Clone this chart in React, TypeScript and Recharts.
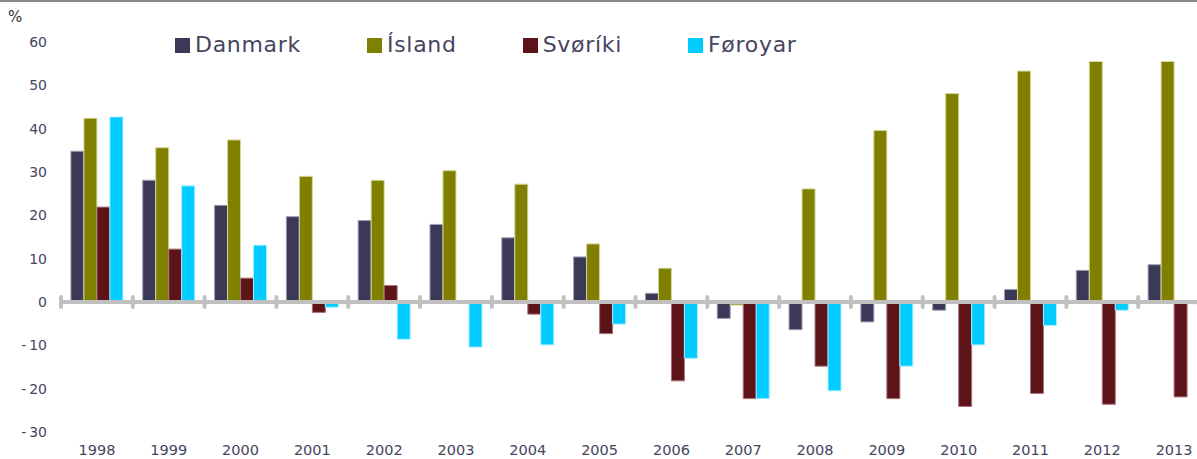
import React from 'react';
import { BarChart, Bar, XAxis, YAxis, ReferenceLine, Legend } from 'recharts';

const years = ['1998','1999','2000','2001','2002','2003','2004','2005','2006','2007','2008','2009','2010','2011','2012','2013'];
const danmark = [34.8, 28.1, 22.3, 19.7, 18.8, 17.9, 14.8, 10.4, 2.0, -3.8, -6.4, -4.6, -1.9, 2.9, 7.3, 8.6];
const island = [42.4, 35.6, 37.4, 29.0, 28.1, 30.3, 27.2, 13.4, 7.8, -0.7, 26.1, 39.6, 48.1, 53.3, 55.5, 55.5];
const sveriki = [21.9, 12.2, 5.5, -2.4, 3.8, 0, -2.8, -7.3, -18.2, -22.3, -14.8, -22.3, -24.1, -21.1, -23.6, -21.9];
const foroyar = [42.7, 26.8, 13.1, -1.2, -8.6, -10.4, -9.9, -5.1, -13.0, -22.3, -20.5, -14.8, -9.9, -5.4, -1.9, -0.4];
const yTicks = [-30, -20, -10, 0, 10, 20, 30, 40, 50, 60];

const series = [
  { key: 'Danmark', values: danmark, fill: '#3C3858', stroke: '#A09EB4' },
  { key: 'Ísland', values: island, fill: '#808000', stroke: '#D6D69C' },
  { key: 'Svøríki', values: sveriki, fill: '#5C1419', stroke: '#A87378' },
  { key: 'Føroyar', values: foroyar, fill: '#00CCFF', stroke: '#A8EEFF' },
];

const data = years.map((y, i) => {
  const row: Record<string, any> = { year: y };
  series.forEach((s) => { row[s.key] = s.values[i]; });
  return row;
});

const FONT = '"DejaVu Sans", Verdana, sans-serif';
const TEXT = '#46445E';

const ZeroLine = (props: any) => {
  const { x1, x2, y1 } = props;
  const n = years.length;
  const step = (x2 - x1) / n;
  const ticks = [];
  for (let i = 0; i <= n; i++) {
    const x = x1 + step * i;
    ticks.push(<line key={i} x1={x} x2={x} y1={y1 - 5} y2={y1 + 5} stroke="#C0C0C0" strokeWidth={4} strokeLinecap="round" />);
  }
  return (
    <g>
      <line x1={x1} x2={x2} y1={y1} y2={y1} stroke="#C0C0C0" strokeWidth={4} />
      {ticks}
    </g>
  );
};

const LegendContent = () => (
  <div style={{ display: 'flex', fontFamily: FONT, fontSize: 22, lineHeight: '22px', letterSpacing: '0.7px', color: TEXT, whiteSpace: 'nowrap' }}>
    {series.map((s) => (
      <div key={s.key} style={{ display: 'flex', alignItems: 'center', marginRight: 66 }}>
        <div style={{ width: 15, height: 15, background: s.fill, marginRight: 5 }} />
        <span>{s.key}</span>
      </div>
    ))}
  </div>
);

const fmt = (v: number) => (v < 0 ? '-\u2009' + Math.abs(v) : String(v));

export default function App() {
  return (
    <div style={{ position: 'fixed', left: 0, top: 0, width: 1197, height: 459, overflow: 'hidden', background: '#fff' }}>
      <div style={{ position: 'absolute', left: 0, top: 0, width: 1197, height: 2, background: '#8A8A8A' }} />
      <div style={{ position: 'absolute', left: 8, top: 8, fontFamily: FONT, fontSize: 15, color: '#333' }}>%</div>
      <BarChart
        width={1221}
        height={459}
        data={data}
        margin={{ top: 42, right: 11, bottom: 0, left: 11 }}
        barCategoryGap="13.8%"
        barGap={0}
      >
        <XAxis
          dataKey="year"
          axisLine={false}
          tickLine={false}
          tickSize={0}
          tickMargin={13}
          height={27}
          interval={0}
          tick={{ fill: TEXT, fontSize: 14.5, fontFamily: FONT }}
        />
        <YAxis
          domain={[-30, 60]}
          ticks={yTicks}
          width={50}
          axisLine={false}
          tickLine={false}
          tickSize={0}
          tickMargin={14}
          interval={0}
          tickFormatter={fmt}
          tick={{ fill: TEXT, fontSize: 14, fontFamily: FONT }}
        />
        <Legend
          verticalAlign="middle"
          align="center"
          layout="horizontal"
          content={<LegendContent />}
          wrapperStyle={{ top: 34, left: 175, width: 900, height: 26 }}
        />
        {series.map((s) => (
          <Bar key={s.key} dataKey={s.key} fill={s.fill} stroke={s.stroke} strokeWidth={1} isAnimationActive={false} />
        ))}
        <ReferenceLine y={0} shape={<ZeroLine />} ifOverflow="extendDomain" />
      </BarChart>
    </div>
  );
}
